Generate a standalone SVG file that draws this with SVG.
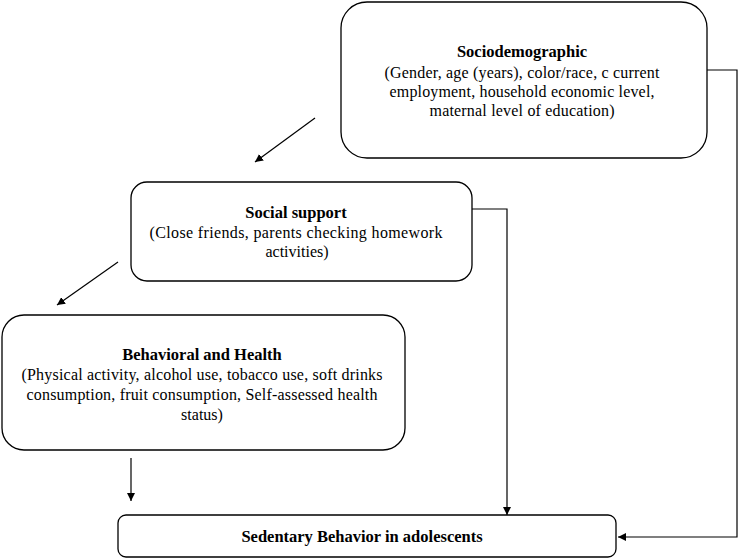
<svg xmlns="http://www.w3.org/2000/svg" width="740" height="559" viewBox="0 0 740 559">
<style>
.box{fill:#fff;stroke:#000;stroke-width:1.3}
.t{font-family:"Liberation Serif","Times New Roman",serif;font-size:16px;fill:#000;text-anchor:middle}
.b{font-weight:bold;font-size:16.5px}
.c{fill:none;stroke:#000;stroke-width:1.2}
</style>
<defs>
<marker id="ah" viewBox="0 0 10 10" refX="10" refY="5" markerWidth="8" markerHeight="8" orient="auto" markerUnits="userSpaceOnUse">
<path d="M0,0 L10,5 L0,10 z" fill="#000"/>
</marker>
</defs>
<rect width="740" height="559" fill="#fff"/>
<g id="connectors">
<path class="c" d="M707,70 H737 V537 H618" marker-end="url(#ah)"/>
<path class="c" d="M472,209 H507 V515" marker-end="url(#ah)"/>
<path class="c" d="M131,458 V501" marker-end="url(#ah)"/>
<path class="c" d="M315,118 L255,162" marker-end="url(#ah)"/>
<path class="c" d="M118,262 L57,305" marker-end="url(#ah)"/>
</g>
<g id="sociodemographic">
<rect class="box" x="341" y="2" width="366" height="156" rx="26"/>
<text class="t b" x="522" y="57">Sociodemographic</text>
<text class="t" x="522" y="78" textLength="275" lengthAdjust="spacing">(Gender, age (years), color/race, c current</text>
<text class="t" x="522" y="97" textLength="265" lengthAdjust="spacing">employment, household economic level,</text>
<text class="t" x="522" y="116" textLength="185" lengthAdjust="spacing">maternal level of education)</text>
</g>
<g id="social-support">
<rect class="box" x="131" y="182" width="341" height="99" rx="16"/>
<text class="t b" x="296" y="218">Social support</text>
<text class="t" x="296" y="238" textLength="293" lengthAdjust="spacing">(Close friends, parents checking homework</text>
<text class="t" x="297" y="257">activities)</text>
</g>
<g id="behavioral-health">
<rect class="box" x="2" y="315" width="403" height="135" rx="22"/>
<text class="t b" x="202" y="360">Behavioral and Health</text>
<text class="t" x="202" y="380" textLength="361" lengthAdjust="spacing">(Physical activity, alcohol use, tobacco use, soft drinks</text>
<text class="t" x="202" y="400" textLength="351" lengthAdjust="spacing">consumption, fruit consumption, Self-assessed health</text>
<text class="t" x="202" y="420">status)</text>
</g>
<g id="sedentary">
<rect class="box" x="118" y="515" width="498" height="42" rx="8"/>
<text class="t b" x="362" y="542">Sedentary Behavior in adolescents</text>
</g>
</svg>
